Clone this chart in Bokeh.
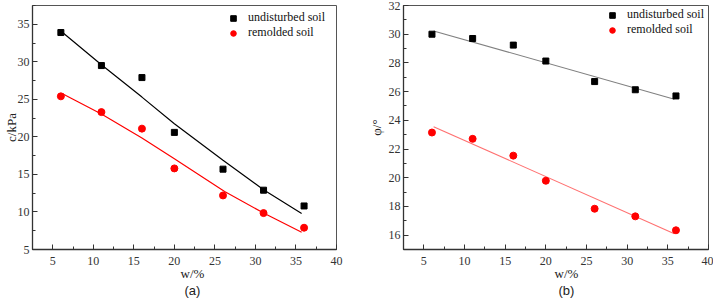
from bokeh.plotting import figure
from bokeh.layouts import row
from bokeh.models import Range1d, SingleIntervalTicker, Legend, LegendItem, Title
from bokeh.embed import file_html
from bokeh.resources import INLINE

# measured data
w = [6, 11, 16, 20, 26, 31, 36]
c_undisturbed = [33.9, 29.5, 27.9, 20.6, 15.7, 12.9, 10.8]
c_remolded = [25.4, 23.3, 21.1, 15.8, 12.2, 9.85, 7.9]
phi_undisturbed = [30.0, 29.7, 29.24, 28.13, 26.7, 26.13, 25.7]
phi_remolded = [23.15, 22.71, 21.54, 19.79, 17.84, 17.31, 16.34]

# fitted curves
c_fit_w_und = [6.1, 11, 16, 20, 26, 31, 35.7]
c_fit_und = [34.0, 29.6, 25.3, 21.75, 16.9, 12.95, 9.8]
c_fit_w_rem = [6.2, 11, 16, 20, 26.2, 31, 35.7]
c_fit_rem = [25.75, 23.05, 19.85, 17.1, 12.73, 9.85, 7.3]
phi_fit_w = [6.2, 35.8]
phi_fit_und = [30.23, 25.47]
phi_fit_rem = [23.56, 16.1]

labels = ["undisturbed soil", "remolded soil"]
x_label = "w/%"
y_labels = ["c/kPa", "φ/°"]
panel_labels = ["(a)", "(b)"]

SERIF = "Liberation Serif"
SANS = "Liberation Sans"


def make_fig(width, bl, br, yr, yint, ylab, ylab_standoff, panel, xoff, poff):
    p = figure(width=width, height=300, x_range=Range1d(2.5, 40), y_range=Range1d(*yr),
               output_backend="svg", toolbar_location=None,
               min_border_left=bl, min_border_right=br, min_border_top=5, min_border_bottom=10)
    p.grid.visible = False
    p.outline_line_color = "#555555"
    p.outline_line_width = 1
    p.xaxis.ticker = SingleIntervalTicker(interval=5, num_minor_ticks=2)
    p.yaxis.ticker = SingleIntervalTicker(interval=yint, num_minor_ticks=2)
    for ax in (p.xaxis[0], p.yaxis[0]):
        ax.axis_line_color = "#333333"
        ax.axis_line_width = 1.3
        ax.major_tick_in = 5
        ax.major_tick_out = 0
        ax.minor_tick_in = 3
        ax.minor_tick_out = 0
        ax.major_tick_line_color = "#333333"
        ax.minor_tick_line_color = "#333333"
        ax.major_label_text_font = SERIF
        ax.major_label_text_font_size = "12px"
        ax.major_label_text_color = "#333333"
    p.xaxis.major_label_standoff = 7
    p.yaxis.major_label_standoff = 3
    p.yaxis.axis_label = ylab
    p.yaxis.axis_label_standoff = ylab_standoff
    p.yaxis.axis_label_text_font = SERIF
    p.yaxis.axis_label_text_font_size = "13px"
    p.yaxis.axis_label_text_font_style = "normal"
    p.yaxis.axis_label_text_color = "#222222"
    p.add_layout(Title(text=x_label, align="left", offset=xoff, standoff=-7,
                       text_font=SERIF, text_font_size="13px", text_font_style="normal",
                       text_color="#222222"), "below")
    p.add_layout(Title(text=panel, align="left", offset=poff, standoff=6,
                       text_font=SANS, text_font_size="13px", text_font_style="normal",
                       text_color="#222222"), "below")
    return p


def add_legend(p, r1, r2, loc):
    leg = Legend(items=[LegendItem(label=labels[0], renderers=[r1]),
                        LegendItem(label=labels[1], renderers=[r2])],
                 location=loc, padding=0, margin=0, spacing=0,
                 glyph_width=20, glyph_height=14, label_height=14, label_standoff=5,
                 border_line_alpha=0, background_fill_alpha=0,
                 label_text_font=SERIF, label_text_font_size="12px", label_text_color="#111111")
    p.add_layout(leg)


# ---- panel (a)
pa = make_fig(357, 30, 21, (5, 37.5), 5, y_labels[0], -4, panel_labels[0], 148, 152)
pa.line(c_fit_w_und, c_fit_und, line_color="black", line_width=1.2)
pa.line(c_fit_w_rem, c_fit_rem, line_color="red", line_width=1.2)
ra1 = pa.scatter(w, c_undisturbed, marker="square", size=6, color="black")
ra2 = pa.scatter(w, c_remolded, marker="circle", size=7, color="red")
add_legend(pa, ra1, ra2, (191, 209))

# ---- panel (b)
pb = make_fig(356, 46, 5, (15, 32), 2, y_labels[1], 2, panel_labels[1], 151, 155)
pb.line(phi_fit_w, phi_fit_und, line_color="#808080", line_width=1.1)
pb.line(phi_fit_w, phi_fit_rem, line_color="#ff7070", line_width=1.1)
rb1 = pb.scatter(w, phi_undisturbed, marker="square", size=6, color="black")
rb2 = pb.scatter(w, phi_remolded, marker="circle", size=7, color="red")
add_legend(pb, rb1, rb2, (199, 212))

layout = row(pa, pb, spacing=0)
open("out.html", "w").write(file_html(layout, INLINE))
